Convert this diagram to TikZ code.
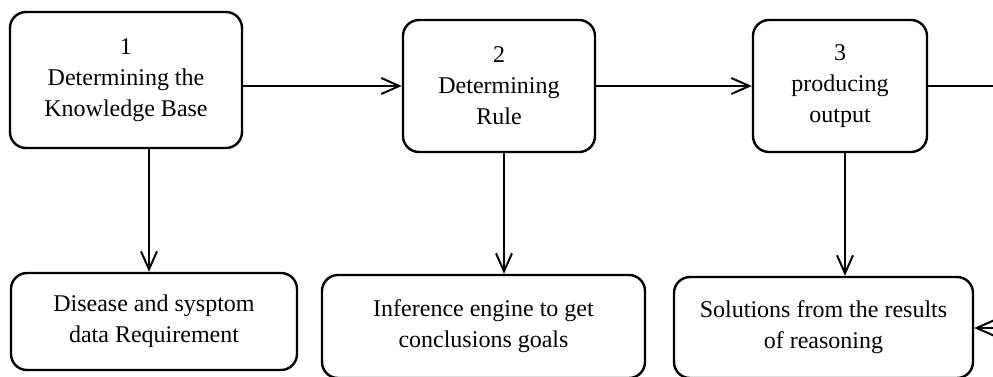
\documentclass[tikz,border=0pt]{standalone}
\usepackage{fontspec}
\setmainfont{Liberation Serif}
\usepackage{tikz}
\usetikzlibrary{positioning,calc,arrows.meta}

\begin{document}
\begin{tikzpicture}[
  x=0.5pt, y=-0.5pt,
  >={Straight Barb[length=9pt,width=8pt]},
  box/.style={rectangle, draw, rounded corners=8pt, line width=1.2pt, inner sep=4pt, align=center,
    font=\fontsize{12pt}{15.5pt}\selectfont}
]
\clip (0,0) rectangle (993,376);
% steps
\node[box, minimum width=116pt, minimum height=68pt] (kb) at (126,80) {1\\Determining the\\Knowledge Base};
\node[box, minimum width=96pt, minimum height=66pt] (rule) at (499,86) {2\\Determining\\Rule};
\node[box, minimum width=87pt, minimum height=66pt] (out) at (840,86) {3\\producing\\output};
% results
\node[box, minimum width=143pt, minimum height=48.5pt] (data) at (154,321.5) {Disease and sysptom\\data Requirement};
\node[box, minimum width=161.5pt, minimum height=51.5pt] (infer) at (483.5,326.5) {Inference engine to get\\conclusions goals};
\node[box, minimum width=149.5pt, minimum height=50.5pt] (sol) at (823.5,327.5) {Solutions from the results\\of reasoning};
\coordinate (outR) at (993,86);
\coordinate (inR) at (993,328);

\draw[->, line width=1pt] (kb.east |- rule.west) -- (rule.west);
\draw[->, line width=1pt] (rule.east) -- (out.west);
\draw[line width=1pt] (out.east) -- (outR);
\draw[->, line width=1pt] (inR) -- (sol.east |- inR);

\draw[->, line width=1pt] ([xshift=11.5pt]kb.south) -- ([xshift=11.5pt]kb.south |- data.north);
\draw[->, line width=1pt] ([xshift=2.5pt]rule.south) -- ([xshift=2.5pt]rule.south |- infer.north);
\draw[->, line width=1pt] ([xshift=2.5pt]out.south) -- ([xshift=2.5pt]out.south |- sol.north);
\end{tikzpicture}
\end{document}
